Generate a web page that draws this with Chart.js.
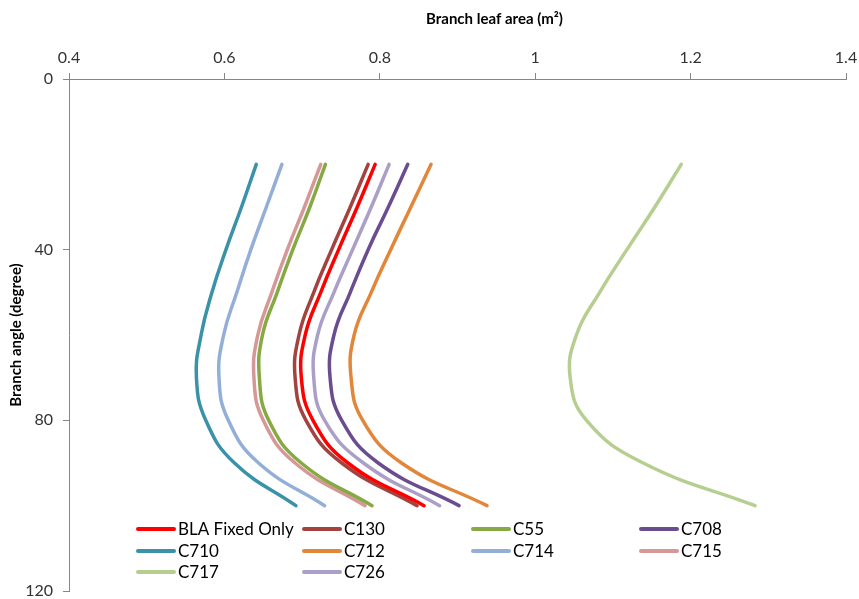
<!DOCTYPE html>
<html>
<head>
<meta charset="utf-8">
<title>Branch leaf area vs branch angle</title>
<script src="https://cdn.jsdelivr.net/npm/chart.js@4/dist/chart.umd.min.js"></script>
<style>
  html, body { margin: 0; padding: 0; background: #ffffff; }
  #wrap { width: 859px; height: 599px; }
</style>
</head>
<body>
<div id="wrap"><canvas id="chart" width="859" height="599"></canvas></div>
<script>
// Branch angle (degree) at which each curve is sampled
const angles = [20, 30, 40, 50, 60, 70, 80, 90, 100];

// Branch leaf area (m2) per series, one value per angle
const blaFixedOnly = [0.794, 0.771, 0.747, 0.724, 0.704, 0.699, 0.714, 0.759, 0.857];
const c130 = [0.785, 0.762, 0.738, 0.715, 0.696, 0.691, 0.705, 0.751, 0.848];
const c55  = [0.730, 0.710, 0.688, 0.668, 0.649, 0.645, 0.657, 0.699, 0.790];
const c708 = [0.836, 0.811, 0.785, 0.762, 0.741, 0.736, 0.751, 0.798, 0.902];
const c710 = [0.641, 0.622, 0.602, 0.584, 0.570, 0.564, 0.576, 0.613, 0.692];
const c712 = [0.866, 0.840, 0.814, 0.789, 0.767, 0.763, 0.778, 0.828, 0.938];
const c714 = [0.674, 0.654, 0.634, 0.616, 0.599, 0.593, 0.605, 0.644, 0.729];
const c715 = [0.724, 0.703, 0.681, 0.661, 0.643, 0.638, 0.650, 0.691, 0.781];
const c717 = [1.188, 1.154, 1.118, 1.083, 1.053, 1.045, 1.066, 1.139, 1.283];
const c726 = [0.812, 0.789, 0.765, 0.741, 0.720, 0.715, 0.729, 0.779, 0.877];

const seriesNames = ['BLA Fixed Only', 'C130', 'C55', 'C708', 'C710', 'C712', 'C714', 'C715', 'C717', 'C726'];
const seriesValues = [blaFixedOnly, c130, c55, c708, c710, c712, c714, c715, c717, c726];
const seriesColors = ['#ff0000', '#a2433f', '#86a944', '#6a4d8f', '#3a92a8', '#e2873a', '#93afd8', '#d59896', '#b6cf91', '#ab9fc7'];

const xTickLabels = ['0.4', '0.6', '0.8', '1', '1.2', '1.4'];
const yTickLabels = ['0', '40', '80', '120'];

const FONT = 'Lato, "Liberation Sans", sans-serif';
const AXIS_GREY = '#868686';

// Look up the printed label for a tick value
const labelFor = (labels, v) => labels.find(l => Math.abs(Number(l) - v) < 1e-6) || '';

const datasets = seriesNames.map((name, i) => ({
  label: name,
  data: angles.map((a, j) => ({ x: seriesValues[i][j], y: a })),
  borderColor: seriesColors[i],
  backgroundColor: seriesColors[i],
  borderWidth: 3.5,
  borderCapStyle: 'round',
  pointRadius: 0,
  fill: false,
  tension: 0.45
}));

// Horizontal axis title, drawn above the tick labels
const topTitle = {
  id: 'topTitle',
  afterDraw(chart) {
    const ctx = chart.ctx;
    const area = chart.chartArea;
    ctx.save();
    ctx.font = 'bold 15px ' + FONT;
    ctx.fillStyle = '#000000';
    ctx.textAlign = 'center';
    ctx.textBaseline = 'middle';
    ctx.fillText('Branch leaf area (m\u00b2)', (area.left + area.right) / 2 + 37, 19);
    ctx.restore();
  }
};

// Four-column legend placed inside the lower part of the plot
const gridLegend = {
  id: 'gridLegend',
  afterDatasetsDraw(chart) {
    const ctx = chart.ctx;
    const area = chart.chartArea;
    const colX = [68, 234, 403, 571];
    const rowY = [-62, -40, -19];
    ctx.save();
    ctx.font = '17px ' + FONT;
    ctx.textBaseline = 'middle';
    ctx.textAlign = 'left';
    chart.data.datasets.forEach((ds, i) => {
      const x = area.left + colX[i % 4];
      const y = area.bottom + rowY[Math.floor(i / 4)];
      ctx.strokeStyle = ds.borderColor;
      ctx.lineWidth = 4;
      ctx.lineCap = 'round';
      ctx.beginPath();
      ctx.moveTo(x + 1, y);
      ctx.lineTo(x + 37, y);
      ctx.stroke();
      ctx.fillStyle = '#000000';
      ctx.fillText(ds.label, x + 41, y + 1);
    });
    ctx.restore();
  }
};

new Chart(document.getElementById('chart'), {
  type: 'line',
  data: { datasets },
  plugins: [topTitle, gridLegend],
  options: {
    responsive: false,
    animation: false,
    indexAxis: 'y',
    layout: { padding: { top: 0, left: 0, right: 13, bottom: 8 } },
    plugins: {
      legend: { display: false },
      tooltip: { enabled: false }
    },
    scales: {
      x: {
        type: 'linear',
        position: 'top',
        min: 0.4,
        max: 1.4,
        afterFit(scale) {
          scale.height = 79;
          scale.paddingLeft = 0;
          scale.paddingRight = 0;
        },
        ticks: {
          stepSize: 0.2,
          padding: 6,
          color: '#333333',
          font: { family: FONT, size: 16 },
          callback: (v) => labelFor(xTickLabels, v)
        },
        grid: { drawOnChartArea: false, drawTicks: true, tickLength: 6, color: AXIS_GREY },
        border: { color: AXIS_GREY, width: 1 }
      },
      y: {
        type: 'linear',
        position: 'left',
        reverse: true,
        min: 0,
        max: 120,
        afterFit(scale) {
          scale.width = 69;
          scale.paddingTop = 0;
          scale.paddingBottom = 0;
        },
        title: {
          display: true,
          text: 'Branch angle (degree)',
          color: '#000000',
          font: { family: FONT, size: 15, weight: 'bold' },
          padding: { top: 7, bottom: 4 }
        },
        ticks: {
          stepSize: 40,
          padding: 10,
          color: '#333333',
          font: { family: FONT, size: 16 },
          callback: (v) => labelFor(yTickLabels, v)
        },
        grid: { drawOnChartArea: false, drawTicks: true, tickLength: 6, color: AXIS_GREY },
        border: { color: AXIS_GREY, width: 1 }
      }
    }
  }
});
</script>
</body>
</html>
